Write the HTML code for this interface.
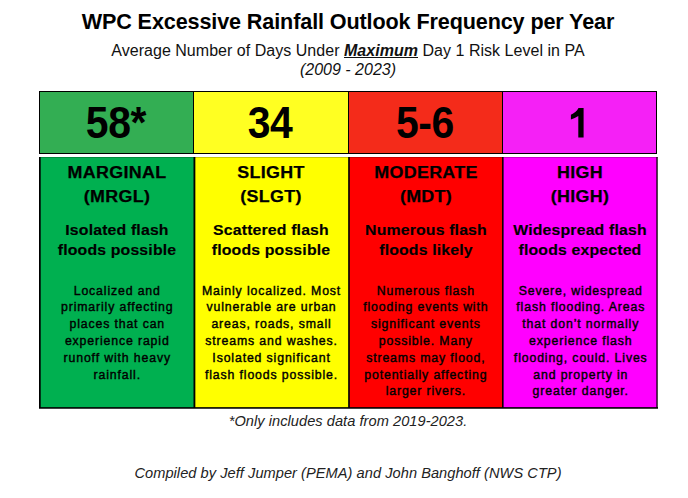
<!DOCTYPE html>
<html><head><meta charset="utf-8">
<style>
html,body{margin:0;padding:0;background:#fff;}
body{width:688px;height:498px;position:relative;overflow:hidden;font-family:"Liberation Sans",sans-serif;color:#000;}
.l{position:absolute;text-align:center;white-space:nowrap;}
.r{position:absolute;}
</style></head><body>
<div class="l" style="left:0.00px;width:696px;top:10.12px;font-size:21.6px;line-height:24px;font-weight:bold;letter-spacing:-0.12px;color:#000;">WPC Excessive Rainfall Outlook Frequency per Year</div>
<div class="l" style="left:0.00px;width:696px;top:41.46px;font-size:16px;line-height:20px;letter-spacing:0.03px;color:#111;">Average Number of Days Under <b style="font-style:italic;text-decoration:underline;text-underline-offset:0.5px;">Maximum</b> Day 1 Risk Level in PA</div>
<div class="l" style="left:0.00px;width:696px;top:60.46px;font-size:16px;line-height:20px;font-style:italic;letter-spacing:0px;color:#111;">(2009 - 2023)</div>
<div class="r" style="left:39px;top:91px;width:618px;height:63px;background:#000;"></div>
<div class="r" style="left:40px;top:92px;width:153px;height:61px;background:#33ae53;"></div>
<div class="r" style="left:194px;top:92px;width:154px;height:61px;background:#ffff22;"></div>
<div class="r" style="left:349px;top:92px;width:153px;height:61px;background:#f42b1a;"></div>
<div class="r" style="left:503px;top:92px;width:153px;height:61px;background:#f520f6;"></div>
<svg class="r" style="left:0;top:0;" width="688" height="498"><path d="M570.9,114.8 C574,113.5 577,111 578.5,108 L583.6,108 L583.6,137.6 L578.3,137.6 L578.3,115.9 C576,117.5 573.5,118.7 570.9,119.5 Z" fill="#000"/></svg>
<div class="l" style="left:40.60px;width:150px;top:97.93px;font-size:43.5px;line-height:50px;font-weight:bold;letter-spacing:-0.4px;transform:scaleX(0.94);">58*</div>
<div class="l" style="left:195.30px;width:150px;top:97.93px;font-size:43.5px;line-height:50px;font-weight:bold;letter-spacing:-0.4px;transform:scaleX(0.94);">34</div>
<div class="l" style="left:349.50px;width:150px;top:97.93px;font-size:43.5px;line-height:50px;font-weight:bold;letter-spacing:-0.4px;transform:scaleX(0.94);">5-6</div>
<div class="r" style="left:39px;top:157px;width:155px;height:251px;background:#00b050;"></div>
<div class="r" style="left:194px;top:157px;width:155px;height:251px;background:#ffff00;"></div>
<div class="r" style="left:349px;top:157px;width:154px;height:251px;background:#ff0000;"></div>
<div class="r" style="left:503px;top:157px;width:154px;height:251px;background:#ff00ff;"></div>
<div class="r" style="left:39px;top:157px;width:1px;height:251px;background:rgba(0,0,0,1);"></div>
<div class="r" style="left:40px;top:157px;width:1px;height:251px;background:rgba(0,0,0,0.7);"></div>
<div class="r" style="left:193px;top:157px;width:1px;height:251px;background:rgba(0,0,0,0.5);"></div>
<div class="r" style="left:194px;top:157px;width:1px;height:251px;background:rgba(0,0,0,1);"></div>
<div class="r" style="left:195px;top:157px;width:1px;height:251px;background:rgba(0,0,0,0.35);"></div>
<div class="r" style="left:348px;top:157px;width:1px;height:251px;background:rgba(0,0,0,0.85);"></div>
<div class="r" style="left:349px;top:157px;width:1px;height:251px;background:rgba(0,0,0,0.8);"></div>
<div class="r" style="left:502px;top:157px;width:1px;height:251px;background:rgba(0,0,0,0.95);"></div>
<div class="r" style="left:503px;top:157px;width:1px;height:251px;background:rgba(0,0,0,0.6);"></div>
<div class="r" style="left:656px;top:157px;width:1px;height:251px;background:rgba(0,0,0,0.6);"></div>
<div class="r" style="left:657px;top:157px;width:1px;height:251px;background:rgba(0,0,0,0.7);"></div>
<div class="r" style="left:39px;top:157px;width:619px;height:1px;background:rgba(0,0,0,0.22);"></div>
<div class="r" style="left:39px;top:407px;width:619px;height:1px;background:rgba(0,0,0,0.85);"></div>
<div class="r" style="left:39px;top:408px;width:619px;height:1px;background:rgba(0,0,0,0.75);"></div>
<div class="l" style="left:41.80px;width:150px;top:160.58px;font-size:16.8px;line-height:24px;font-weight:bold;letter-spacing:0.3px;transform:scaleX(1.065);-webkit-text-stroke:0.25px #000;">MARGINAL</div>
<div class="l" style="left:41.80px;width:150px;top:184.68px;font-size:16.8px;line-height:24px;font-weight:bold;letter-spacing:0.3px;transform:scaleX(1.065);-webkit-text-stroke:0.25px #000;">(MRGL)</div>
<div class="l" style="left:41.80px;width:150px;top:219.70px;font-size:15.3px;line-height:20px;font-weight:bold;letter-spacing:0.15px;transform:scaleX(1.035);-webkit-text-stroke:0.15px #000;">Isolated flash</div>
<div class="l" style="left:41.80px;width:150px;top:240.10px;font-size:15.3px;line-height:20px;font-weight:bold;letter-spacing:0.15px;transform:scaleX(1.035);-webkit-text-stroke:0.15px #000;">floods possible</div>
<div class="l" style="left:42.25px;width:150px;top:282.54px;font-size:12.3px;line-height:16px;font-weight:normal;letter-spacing:0.86px;color:#000;-webkit-text-stroke:0.4px #000;">Localized and</div>
<div class="l" style="left:42.25px;width:150px;top:299.34px;font-size:12.3px;line-height:16px;font-weight:normal;letter-spacing:0.86px;color:#000;-webkit-text-stroke:0.4px #000;">primarily affecting</div>
<div class="l" style="left:42.25px;width:150px;top:316.14px;font-size:12.3px;line-height:16px;font-weight:normal;letter-spacing:0.86px;color:#000;-webkit-text-stroke:0.4px #000;">places that can</div>
<div class="l" style="left:42.25px;width:150px;top:332.94px;font-size:12.3px;line-height:16px;font-weight:normal;letter-spacing:0.86px;color:#000;-webkit-text-stroke:0.4px #000;">experience rapid</div>
<div class="l" style="left:42.25px;width:150px;top:349.74px;font-size:12.3px;line-height:16px;font-weight:normal;letter-spacing:0.86px;color:#000;-webkit-text-stroke:0.4px #000;">runoff with heavy</div>
<div class="l" style="left:42.25px;width:150px;top:366.54px;font-size:12.3px;line-height:16px;font-weight:normal;letter-spacing:0.86px;color:#000;-webkit-text-stroke:0.4px #000;">rainfall.</div>
<div class="l" style="left:196.10px;width:150px;top:160.58px;font-size:16.8px;line-height:24px;font-weight:bold;letter-spacing:0.3px;transform:scaleX(1.065);-webkit-text-stroke:0.25px #000;">SLIGHT</div>
<div class="l" style="left:196.10px;width:150px;top:184.68px;font-size:16.8px;line-height:24px;font-weight:bold;letter-spacing:0.3px;transform:scaleX(1.065);-webkit-text-stroke:0.25px #000;">(SLGT)</div>
<div class="l" style="left:196.10px;width:150px;top:219.70px;font-size:15.3px;line-height:20px;font-weight:bold;letter-spacing:0.15px;transform:scaleX(1.035);-webkit-text-stroke:0.15px #000;">Scattered flash</div>
<div class="l" style="left:196.10px;width:150px;top:240.10px;font-size:15.3px;line-height:20px;font-weight:bold;letter-spacing:0.15px;transform:scaleX(1.035);-webkit-text-stroke:0.15px #000;">floods possible</div>
<div class="l" style="left:196.55px;width:150px;top:282.54px;font-size:12.3px;line-height:16px;font-weight:normal;letter-spacing:0.86px;color:#000;-webkit-text-stroke:0.4px #000;">Mainly localized. Most</div>
<div class="l" style="left:196.55px;width:150px;top:299.34px;font-size:12.3px;line-height:16px;font-weight:normal;letter-spacing:0.86px;color:#000;-webkit-text-stroke:0.4px #000;">vulnerable are urban</div>
<div class="l" style="left:196.55px;width:150px;top:316.14px;font-size:12.3px;line-height:16px;font-weight:normal;letter-spacing:0.86px;color:#000;-webkit-text-stroke:0.4px #000;">areas, roads, small</div>
<div class="l" style="left:196.55px;width:150px;top:332.94px;font-size:12.3px;line-height:16px;font-weight:normal;letter-spacing:0.86px;color:#000;-webkit-text-stroke:0.4px #000;">streams and washes.</div>
<div class="l" style="left:196.55px;width:150px;top:349.74px;font-size:12.3px;line-height:16px;font-weight:normal;letter-spacing:0.86px;color:#000;-webkit-text-stroke:0.4px #000;">Isolated significant</div>
<div class="l" style="left:196.55px;width:150px;top:366.54px;font-size:12.3px;line-height:16px;font-weight:normal;letter-spacing:0.86px;color:#000;-webkit-text-stroke:0.4px #000;">flash floods possible.</div>
<div class="l" style="left:350.80px;width:150px;top:160.58px;font-size:16.8px;line-height:24px;font-weight:bold;letter-spacing:0.3px;transform:scaleX(1.065);-webkit-text-stroke:0.25px #000;">MODERATE</div>
<div class="l" style="left:350.80px;width:150px;top:184.68px;font-size:16.8px;line-height:24px;font-weight:bold;letter-spacing:0.3px;transform:scaleX(1.065);-webkit-text-stroke:0.25px #000;">(MDT)</div>
<div class="l" style="left:350.80px;width:150px;top:219.70px;font-size:15.3px;line-height:20px;font-weight:bold;letter-spacing:0.15px;transform:scaleX(1.035);-webkit-text-stroke:0.15px #000;">Numerous flash</div>
<div class="l" style="left:350.80px;width:150px;top:240.10px;font-size:15.3px;line-height:20px;font-weight:bold;letter-spacing:0.15px;transform:scaleX(1.035);-webkit-text-stroke:0.15px #000;">floods likely</div>
<div class="l" style="left:350.85px;width:150px;top:282.54px;font-size:12.3px;line-height:16px;font-weight:normal;letter-spacing:0.86px;color:#000;-webkit-text-stroke:0.4px #000;">Numerous flash</div>
<div class="l" style="left:350.85px;width:150px;top:299.34px;font-size:12.3px;line-height:16px;font-weight:normal;letter-spacing:0.86px;color:#000;-webkit-text-stroke:0.4px #000;">flooding events with</div>
<div class="l" style="left:350.85px;width:150px;top:316.14px;font-size:12.3px;line-height:16px;font-weight:normal;letter-spacing:0.86px;color:#000;-webkit-text-stroke:0.4px #000;">significant events</div>
<div class="l" style="left:350.85px;width:150px;top:332.94px;font-size:12.3px;line-height:16px;font-weight:normal;letter-spacing:0.86px;color:#000;-webkit-text-stroke:0.4px #000;">possible. Many</div>
<div class="l" style="left:350.85px;width:150px;top:349.74px;font-size:12.3px;line-height:16px;font-weight:normal;letter-spacing:0.86px;color:#000;-webkit-text-stroke:0.4px #000;">streams may flood,</div>
<div class="l" style="left:350.85px;width:150px;top:366.54px;font-size:12.3px;line-height:16px;font-weight:normal;letter-spacing:0.86px;color:#000;-webkit-text-stroke:0.4px #000;">potentially affecting</div>
<div class="l" style="left:350.85px;width:150px;top:383.34px;font-size:12.3px;line-height:16px;font-weight:normal;letter-spacing:0.86px;color:#000;-webkit-text-stroke:0.4px #000;">larger rivers.</div>
<div class="l" style="left:505.30px;width:150px;top:160.58px;font-size:16.8px;line-height:24px;font-weight:bold;letter-spacing:0.3px;transform:scaleX(1.065);-webkit-text-stroke:0.25px #000;">HIGH</div>
<div class="l" style="left:505.30px;width:150px;top:184.68px;font-size:16.8px;line-height:24px;font-weight:bold;letter-spacing:0.3px;transform:scaleX(1.065);-webkit-text-stroke:0.25px #000;">(HIGH)</div>
<div class="l" style="left:505.30px;width:150px;top:219.70px;font-size:15.3px;line-height:20px;font-weight:bold;letter-spacing:0.15px;transform:scaleX(1.035);-webkit-text-stroke:0.15px #000;">Widespread flash</div>
<div class="l" style="left:505.30px;width:150px;top:240.10px;font-size:15.3px;line-height:20px;font-weight:bold;letter-spacing:0.15px;transform:scaleX(1.035);-webkit-text-stroke:0.15px #000;">floods expected</div>
<div class="l" style="left:505.75px;width:150px;top:282.54px;font-size:12.3px;line-height:16px;font-weight:normal;letter-spacing:0.86px;color:#000;-webkit-text-stroke:0.4px #000;">Severe, widespread</div>
<div class="l" style="left:505.75px;width:150px;top:299.34px;font-size:12.3px;line-height:16px;font-weight:normal;letter-spacing:0.86px;color:#000;-webkit-text-stroke:0.4px #000;">flash flooding. Areas</div>
<div class="l" style="left:505.75px;width:150px;top:316.14px;font-size:12.3px;line-height:16px;font-weight:normal;letter-spacing:0.86px;color:#000;-webkit-text-stroke:0.4px #000;">that don’t normally</div>
<div class="l" style="left:505.75px;width:150px;top:332.94px;font-size:12.3px;line-height:16px;font-weight:normal;letter-spacing:0.86px;color:#000;-webkit-text-stroke:0.4px #000;">experience flash</div>
<div class="l" style="left:505.75px;width:150px;top:349.74px;font-size:12.3px;line-height:16px;font-weight:normal;letter-spacing:0.86px;color:#000;-webkit-text-stroke:0.4px #000;">flooding, could. Lives</div>
<div class="l" style="left:505.75px;width:150px;top:366.54px;font-size:12.3px;line-height:16px;font-weight:normal;letter-spacing:0.86px;color:#000;-webkit-text-stroke:0.4px #000;">and property in</div>
<div class="l" style="left:505.75px;width:150px;top:383.34px;font-size:12.3px;line-height:16px;font-weight:normal;letter-spacing:0.86px;color:#000;-webkit-text-stroke:0.4px #000;">greater danger.</div>
<div class="l" style="left:0.00px;width:696px;top:411.84px;font-size:14.6px;line-height:18px;font-style:italic;color:#222;letter-spacing:0.05px;">*Only includes data from 2019-2023.</div>
<div class="l" style="left:0.00px;width:696px;top:463.94px;font-size:14.6px;line-height:18px;font-style:italic;color:#222;letter-spacing:0.05px;">Compiled by Jeff Jumper (PEMA) and John Banghoff (NWS CTP)</div>
</body></html>
